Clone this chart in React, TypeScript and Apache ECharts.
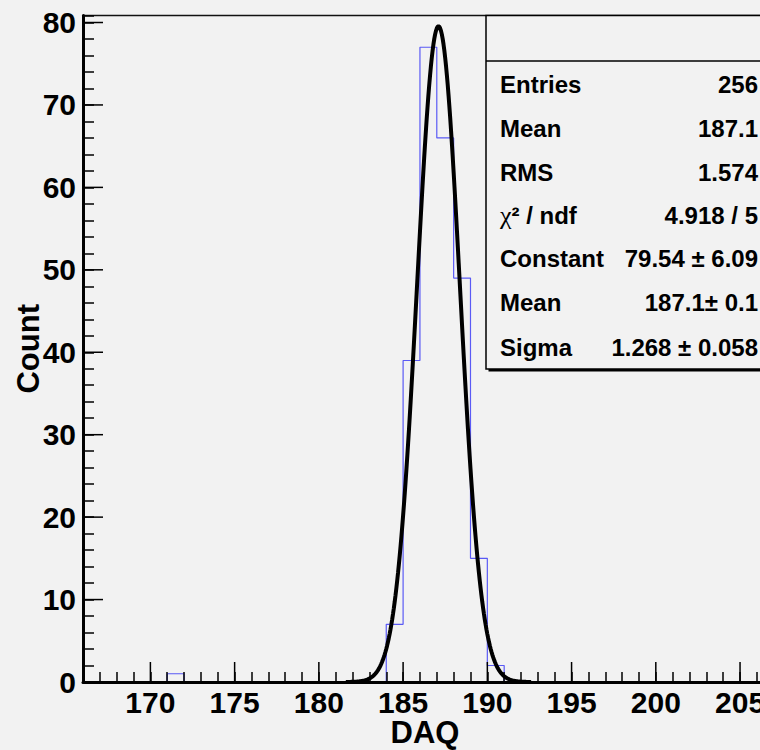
import React, { useEffect, useRef } from 'react';
import * as echarts from 'echarts';

// ---- data ----
const BIN_LOW = [166, 167, 168, 169, 170, 171, 172, 173, 174, 175, 176, 177, 178, 179, 180, 181, 182, 183, 184, 185, 186, 187, 188, 189, 190, 191, 192, 193, 194, 195, 196, 197, 198, 199, 200, 201, 202, 203, 204, 205];
const COUNTS = [0, 0, 0, 0, 0, 1, 0, 0, 0, 0, 0, 0, 0, 0, 0, 0, 0, 0, 7, 39, 77, 66, 49, 15, 2, 0, 0, 0, 0, 0, 0, 0, 0, 0, 0, 0, 0, 0, 0, 0];
const BIN_WIDTH = 1;

const X_MIN = 166;
const X_MAX = 206.6;
const Y_MIN = 0;
const Y_MAX = 80.85;
const X_MAJOR_TICKS = [170, 175, 180, 185, 190, 195, 200, 205];
const Y_MAJOR_TICKS = [0, 10, 20, 30, 40, 50, 60, 70, 80];

// Gaussian fit parameters shown in the stats box
const FIT_CONSTANT = 79.54;
const FIT_MEAN = 187.1;
const FIT_SIGMA = 1.268;
const FIT_RANGE = [181.6, 192.6];
const FIT_STEP = 0.05;

const STAT_LABELS = ['Entries', 'Mean', 'RMS', 'χ² / ndf', 'Constant', 'Mean', 'Sigma'];
const STAT_VALUES = ['256', '187.1', '1.574', '4.918 / 5', '79.54 ± 6.09', '187.1± 0.1', '1.268 ± 0.058'];

const X_TITLE = 'DAQ';
const Y_TITLE = 'Count';

const FONT = '"Liberation Sans", Arial, Helvetica, sans-serif';
const BG = '#f2f2f2';

export default function App() {
  const ref = useRef<HTMLDivElement>(null);

  useEffect(() => {
    if (!ref.current) return;
    const chart = echarts.init(ref.current, undefined, { renderer: 'svg' });

    const histData: number[][] = BIN_LOW.map((x, i) => [x, COUNTS[i]]);
    histData.push([BIN_LOW[BIN_LOW.length - 1] + BIN_WIDTH, COUNTS[COUNTS.length - 1]]);

    // fitted gaussian evaluated with the parameters printed in the stats box
    const fitData: number[][] = [];
    const nSteps = Math.round((FIT_RANGE[1] - FIT_RANGE[0]) / FIT_STEP);
    for (let k = 0; k <= nSteps; k++) {
      const x = FIT_RANGE[0] + k * FIT_STEP;
      const z = (x - FIT_MEAN) / FIT_SIGMA;
      fitData.push([x, FIT_CONSTANT * Math.exp(-0.5 * z * z)]);
    }

    const tickData = [
      ...X_MAJOR_TICKS.map((v) => [v, Y_MIN, 0]),
      ...Y_MAJOR_TICKS.map((v) => [X_MIN, v, 1]),
    ];

    const boxLeft = 486;
    const boxTop = 15.5;
    const boxW = 330;
    const boxH = 353.5;
    const rowY = [84, 128, 172, 215, 258, 302, 347];
    const labelX = 500;
    const valueX = 758;

    const statTexts: any[] = [];
    STAT_LABELS.forEach((lab, i) => {
      if (lab.startsWith('χ')) {
        statTexts.push({
          type: 'text',
          x: labelX,
          y: rowY[i],
          style: {
            text: '{c|χ}{b|' + lab.slice(1) + '}',
            rich: {
              c: { fontFamily: '"Liberation Serif", "DejaVu Serif", serif', fontSize: 26, fontWeight: 'normal', fill: '#000' },
              b: { fontFamily: FONT, fontSize: 24, fontWeight: 'bold', fill: '#000' },
            },
            verticalAlign: 'middle',
            align: 'left',
          },
        });
      } else {
        statTexts.push({
          type: 'text',
          x: labelX,
          y: rowY[i],
          style: { text: lab, fontFamily: FONT, fontSize: 24, fontWeight: 'bold', fill: '#000', align: 'left', verticalAlign: 'middle' },
        });
      }
      statTexts.push({
        type: 'text',
        x: valueX,
        y: rowY[i],
        style: { text: STAT_VALUES[i], fontFamily: FONT, fontSize: 24, fontWeight: 'bold', fill: '#000', align: 'right', verticalAlign: 'middle' },
      });
    });

    const axisLabelBase = { fontFamily: FONT, fontSize: 30, fontWeight: 'bold', color: '#000' };
    const titleStyle = { fontFamily: FONT, fontSize: 31, fontWeight: 'bold', color: '#000' };

    chart.setOption({
      animation: false,
      backgroundColor: BG,
      grid: {
        left: 83,
        top: 15.5,
        right: -7,
        bottom: 68,
        show: true,
        borderColor: '#111',
        borderWidth: 1.5,
        backgroundColor: 'transparent',
        containLabel: false,
        outerBoundsMode: 'none',
      },
      xAxis: {
        type: 'value',
        min: X_MIN,
        max: X_MAX,
        interval: 1,
        z: 3,
        name: X_TITLE,
        nameLocation: 'middle',
        nameGap: 35,
        nameMoveOverlap: false,
        nameTextStyle: titleStyle,
        axisLine: { show: true, onZero: false, lineStyle: { color: '#000', width: 3 } },
        axisTick: { show: true, inside: true, length: 10, lineStyle: { color: '#000', width: 1.5 } },
        axisLabel: {
          ...axisLabelBase,
          margin: 5,
          formatter: (v: number) => (Math.abs(v % 5) < 1e-6 ? String(v) : ''),
        },
        splitLine: { show: false },
      },
      yAxis: {
        type: 'value',
        min: Y_MIN,
        max: Y_MAX,
        interval: 2,
        z: 3,
        name: Y_TITLE,
        nameLocation: 'middle',
        nameRotate: 90,
        nameGap: 39,
        nameMoveOverlap: false,
        nameTextStyle: titleStyle,
        axisLine: { show: true, onZero: false, lineStyle: { color: '#000', width: 3 } },
        axisTick: { show: true, inside: true, length: 11, lineStyle: { color: '#000', width: 1.5 } },
        axisLabel: {
          ...axisLabelBase,
          margin: 7,
          padding: [6, 0, 0, 0],
          formatter: (v: number) => (Math.abs(v % 10) < 1e-6 ? String(v) : ''),
        },
        splitLine: { show: false },
      },
      series: [
        {
          type: 'line',
          name: 'histogram',
          data: histData,
          step: 'end',
          showSymbol: false,
          symbol: 'none',
          z: 2,
          lineStyle: { color: '#5a5af5', width: 1.2 },
          silent: true,
        },
        {
          type: 'line',
          name: 'gaus fit',
          data: fitData,
          showSymbol: false,
          symbol: 'none',
          smooth: false,
          z: 4,
          lineStyle: { color: '#000', width: 4 },
          silent: true,
        },
        {
          type: 'custom',
          name: 'major ticks',
          coordinateSystem: 'cartesian2d',
          data: tickData,
          z: 3,
          silent: true,
          clip: false,
          renderItem: (_params: any, api: any) => {
            const p = api.coord([api.value(0), api.value(1)]);
            const isY = api.value(2) === 1;
            return {
              type: 'line',
              shape: isY
                ? { x1: p[0], y1: p[1], x2: p[0] + 20, y2: p[1] }
                : { x1: p[0], y1: p[1], x2: p[0], y2: p[1] - 20 },
              style: { stroke: '#000', lineWidth: 1.5 },
            };
          },
        },
      ],
      graphic: [
        {
          type: 'group',
          z: 10,
          children: [
            { type: 'rect', shape: { x: boxLeft + 2.5, y: boxTop + 2.5, width: boxW, height: boxH }, style: { fill: '#000' } },
            { type: 'rect', shape: { x: boxLeft, y: boxTop, width: boxW, height: boxH }, style: { fill: BG, stroke: '#000', lineWidth: 1.5 } },
            { type: 'line', shape: { x1: boxLeft, y1: 61, x2: boxLeft + boxW, y2: 61 }, style: { stroke: '#000', lineWidth: 1.5 } },
            ...statTexts,
          ],
        },
      ],
    });

    return () => chart.dispose();
  }, []);

  return (
    <div style={{ position: 'fixed', left: 0, top: 0, width: 760, height: 750, background: BG, overflow: 'hidden' }}>
      <div ref={ref} style={{ width: 760, height: 750 }} />
    </div>
  );
}
